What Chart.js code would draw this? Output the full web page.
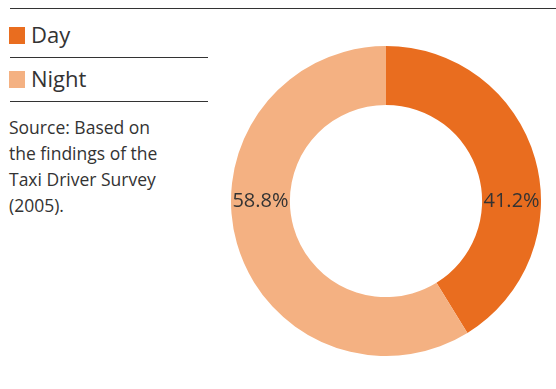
<!DOCTYPE html>
<html>
<head>
<meta charset="utf-8">
<script src="https://cdn.jsdelivr.net/npm/chart.js@4/dist/chart.umd.min.js"></script>
<style>
  html, body { margin: 0; padding: 0; background: #fff; }
  body { width: 556px; height: 389px; position: relative; overflow: hidden;
         font-family: 'Open Sans', 'Noto Sans', sans-serif; color: #333; }
  .rule { position: absolute; left: 10px; height: 1px; background: #333; }
  .legend-item { position: absolute; left: 9px; font-size: 22px; line-height: 30px; }
  .legend-item span { display: inline-block; width: 16px; height: 17px; margin-right: 6px; vertical-align: -1px; }
  .note { position: absolute; left: 9px; top: 114px; font-size: 17.5px; line-height: 26px; color: #333; }
  #wrap { position: absolute; left: 231px; top: 46px; width: 310px; height: 310px; }
</style>
</head>
<body>
<div class="rule" style="top:8px; width:546px;"></div>
<div id="legend"></div>
<div class="rule" style="top:57px; width:198px;"></div>
<div class="rule" style="top:101px; width:198px;"></div>
<div class="note">Source: Based on<br>the findings of the<br>Taxi Driver Survey<br>(2005).</div>
<div id="wrap"><canvas id="donut"></canvas></div>
<script>
const categories = ['Day', 'Night'];
const shares = [41.2, 58.8];
const colors = ['#E96D1F', '#F4B182'];

// legend rows, one per category
const legendTops = [19, 63];
const legend = document.getElementById('legend');
categories.forEach((name, i) => {
    const row = document.createElement('div');
    row.className = 'legend-item';
    row.style.top = legendTops[i] + 'px';
    row.innerHTML = `<span style="background:${colors[i]}"></span>${name}`;
    legend.appendChild(row);
});

// percentage labels sit in the ring at the left/right side of the arc they belong to
const sideLabels = {
    id: 'sideLabels',
    afterDatasetsDraw(chart) {
        const ctx = chart.ctx;
        const meta = chart.getDatasetMeta(0);
        ctx.save();
        ctx.font = '20px "Open Sans", sans-serif';
        ctx.fillStyle = '#333';
        ctx.textAlign = 'center';
        ctx.textBaseline = 'middle';
        meta.data.forEach((arc, i) => {
            const p = arc.getProps(['x', 'y', 'startAngle', 'endAngle', 'innerRadius', 'outerRadius'], true);
            const mid = (p.startAngle + p.endAngle) / 2;
            const r = (p.innerRadius + p.outerRadius) / 2;
            const side = Math.cos(mid) >= 0 ? 1 : -1;
            ctx.fillText(shares[i].toFixed(1) + '%', p.x + side * r, p.y);
        });
        ctx.restore();
    }
};

new Chart(document.getElementById('donut'), {
    type: 'doughnut',
    data: {
        labels: categories,
        datasets: [{
            data: shares,
            backgroundColor: colors,
            borderWidth: 0,
            hoverOffset: 0
        }]
    },
    options: {
        responsive: true,
        maintainAspectRatio: false,
        animation: false,
        cutout: '62%',
        layout: { padding: 0 },
        plugins: {
            legend: { display: false },
            tooltip: { enabled: false }
        }
    },
    plugins: [sideLabels]
});
</script>
</body>
</html>
